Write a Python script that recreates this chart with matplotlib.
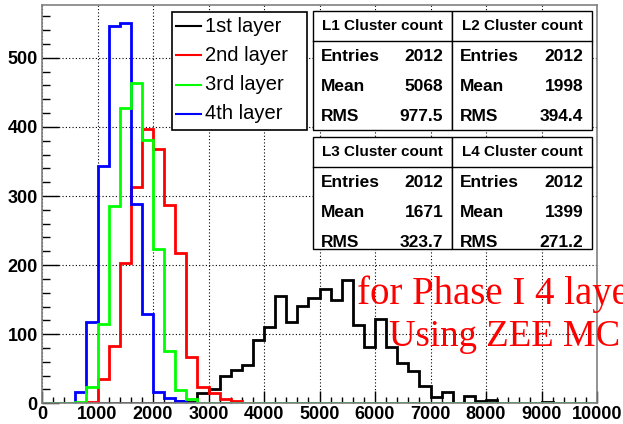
import numpy as np
import matplotlib
matplotlib.use("Agg")
import matplotlib.pyplot as plt
from matplotlib.patches import Rectangle
from matplotlib.lines import Line2D
from matplotlib.ticker import MultipleLocator

plt.rcParams["font.family"] = "Liberation Sans"
plt.rcParams["font.weight"] = "bold"

W, H = 623, 424

# 50 bins of width 200 from 0 to 10000
edges = np.arange(0, 10001, 200)

def filled(start, counts):
    """Place a list of bin counts into the 50-bin array starting at value `start`."""
    v = np.zeros(50)
    i0 = start // 200
    v[i0:i0 + len(counts)] = counts
    return v

layer1 = filled(2400, [3, 2, 15, 20, 40, 48, 55, 91, 111, 155, 117, 141, 153, 165,
                       149, 179, 113, 81, 122, 82, 59, 47, 25, 9, 17, 0, 10, 4, 5,
                       0, 0, 0, 0, 2])
layer2 = filled(800, [2, 35, 83, 203, 313, 397, 368, 287, 217, 67, 24, 15, 6, 3])
layer3 = filled(600, [2, 24, 115, 285, 428, 464, 381, 223, 76, 19, 6, 1])
layer4 = filled(600, [17, 117, 344, 546, 550, 289, 129, 16, 8, 3, 1])

labels = ["1st layer", "2nd layer", "3rd layer", "4th layer"]
colors = ["#000000", "#ff0000", "#00ff00", "#0000ff"]

stat_titles = ["L1 Cluster count", "L2 Cluster count", "L3 Cluster count", "L4 Cluster count"]
entries = ["2012", "2012", "2012", "2012"]
means = ["5068", "1998", "1671", "1399"]
rms = ["977.5", "394.4", "323.7", "271.2"]

YMAX = 1.05 * 549


def fx(x):
    return x / W


def fy(y):
    return 1 - y / H


fig = plt.figure(figsize=(W / 100, H / 100), dpi=100, facecolor="white")
x0, x1, y0, y1 = 42, 597, 5, 403.3
ax = fig.add_axes([fx(x0), fy(y1), (x1 - x0) / W, (y1 - y0) / H])

# draw order: black, red, blue, green (green baseline ends up on top)
for vals, col in [(layer1, colors[0]), (layer2, colors[1]),
                  (layer4, colors[3]), (layer3, colors[2])]:
    ax.stairs(vals, edges, baseline=0, fill=False, color=col, linewidth=2)

ax.set_xlim(0, 10000)
ax.set_ylim(0, YMAX)
ax.xaxis.set_major_locator(MultipleLocator(1000))
ax.xaxis.set_minor_locator(MultipleLocator(200))
ax.yaxis.set_major_locator(MultipleLocator(100))
ax.yaxis.set_minor_locator(MultipleLocator(20))
ax.grid(True, which="major", linestyle=(0, (1, 2)), color="black", linewidth=0.8)
ax.set_axisbelow(True)
ax.tick_params(axis="x", which="major", direction="in", length=8.6, width=1, pad=2,
               labelsize=13)
ax.tick_params(axis="x", which="minor", direction="in", length=4.3, width=1)
ax.tick_params(axis="y", which="major", direction="in", length=12, width=1, pad=3,
               labelsize=13)
ax.tick_params(axis="y", which="minor", direction="in", length=6, width=1)
for sp in ax.spines.values():
    sp.set_color("#808080")
    sp.set_linewidth(1.2)

# legend box
fig.patches.append(Rectangle((fx(172), fy(130)), (307 - 172) / W, (130 - 12) / H,
                             transform=fig.transFigure, facecolor="white",
                             edgecolor="black", linewidth=1.2, zorder=5))
for k, (lab, col) in enumerate(zip(labels, colors)):
    yc = 26 + k * 29.3
    fig.lines.append(Line2D([fx(176), fx(201)], [fy(yc), fy(yc)], color=col,
                            linewidth=1.5, transform=fig.transFigure, zorder=6))
    fig.text(fx(205), fy(yc), lab, fontsize=14.5, weight="normal",
             va="center", ha="left", zorder=6)

# statistics boxes, 2 x 2
box_x = [(313.3, 452.3), (452.3, 592), (313.3, 452.3), (452.3, 592)]
box_y = [(11, 40.7, 130), (11, 40.7, 130), (137.3, 166.7, 249.3), (137.3, 166.7, 249.3)]
for k in range(4):
    (xa, xb), (ya, ym, yb) = box_x[k], box_y[k]
    fig.patches.append(Rectangle((fx(xa), fy(yb)), (xb - xa) / W, (yb - ya) / H,
                                 transform=fig.transFigure, facecolor="white",
                                 edgecolor="black", linewidth=1, zorder=5))
    fig.lines.append(Line2D([fx(xa), fx(xb)], [fy(ym), fy(ym)], color="black",
                            linewidth=1, transform=fig.transFigure, zorder=6))
    fig.text(fx((xa + xb) / 2), fy((ya + ym) / 2 + 0.5), stat_titles[k], fontsize=11,
             weight="bold", ha="center", va="center", zorder=6)
    rows = [("Entries", entries[k]), ("Mean", means[k]), ("RMS", rms[k])]
    for j, (name, val) in enumerate(rows):
        yc = ym + 16 + j * 29.7
        fig.text(fx(xa + 8), fy(yc), name, fontsize=12.5,
                 weight="bold", ha="left", va="center", zorder=6)
        fig.text(fx(xb - 9), fy(yc), val, fontsize=12.5,
                 weight="bold", ha="right", va="center", zorder=6)

# red annotation (runs off the right edge of the canvas, as in the original)
fig.text(fx(357), fy(304), "for Phase I 4 layers", color="#ff0000", fontsize=28,
         family="Liberation Serif", weight="normal", ha="left", va="baseline", zorder=7)
fig.text(fx(389), fy(346.5), "Using ZEE MC", color="#ff0000", fontsize=26.5,
         family="Liberation Serif", weight="normal", ha="left", va="baseline", zorder=7)

fig.savefig("out.png", dpi=100, facecolor="white")
